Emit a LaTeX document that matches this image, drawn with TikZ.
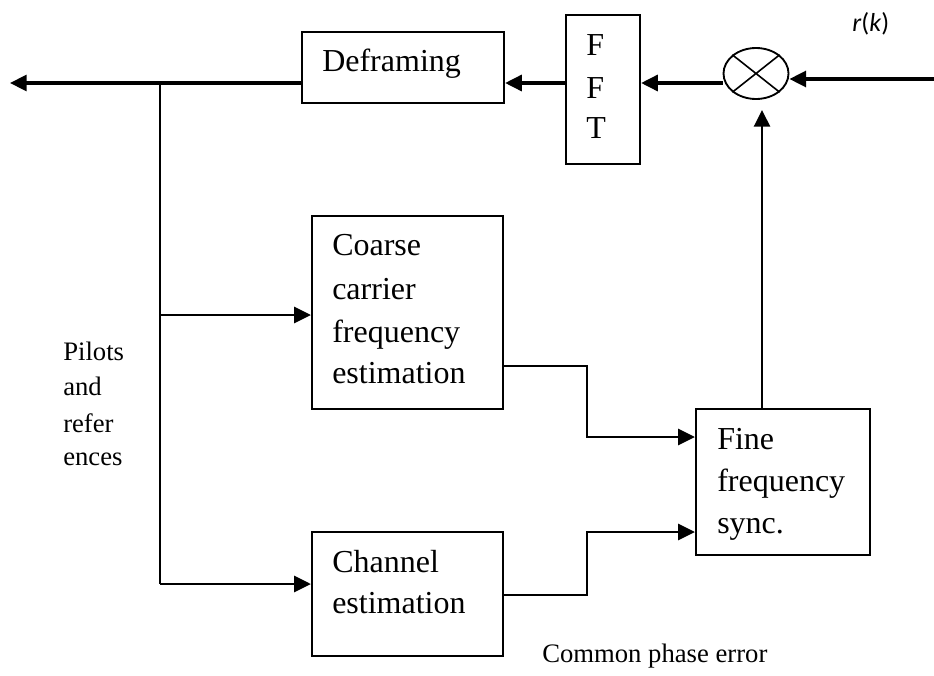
\documentclass[tikz,border=0pt]{standalone}
\usepackage{fontspec}
\setmainfont{Liberation Serif}
\newfontfamily\calfont{Carlito}
\usetikzlibrary{arrows.meta,shapes.geometric,fit}
\begin{document}
\begin{tikzpicture}[x=0.75pt,y=-0.75pt,
  box/.style={draw,line width=1.7pt,inner sep=0pt},
  conn/.style={line width=1.9pt},
  mainline/.style={line width=2.3pt},
  arr/.style={-{Triangle[length=12.5pt,width=12pt]}},
  btxt/.style={anchor=base west,inner sep=0pt,font=\fontsize{24}{30}\selectfont},
  stxt/.style={anchor=base west,inner sep=0pt,font=\fontsize{20}{25}\selectfont}]
\useasboundingbox (0,0) rectangle (934,675);
% boxes
\node[box,fit={(302,32) (504,103)}] (def) {};
\node[box,fit={(566,15) (640,164)}] (fft) {};
\node[box,fit={(312,216) (503,409)}] (coarse) {};
\node[box,fit={(312,532) (503,656)}] (chan) {};
\node[box,fit={(696,409) (870,555)}] (fine) {};
\node[draw,ellipse,line width=1.4pt,minimum width=48.75pt,minimum height=38.25pt,inner sep=0pt] (mul) at (756,73.5) {};
\draw[line width=1.2pt] (mul.north west) -- (mul.south east) (mul.north east) -- (mul.south west);
% texts
\node[btxt] (tdef) at (322,71) {Deframing};
\node[btxt] (tf1) at (586,55) {F};
\node[btxt] (tf2) at (586,98) {F};
\node[btxt] (tf3) at (586,138) {T};
\node[btxt] (tc1) at (332,255) {Coarse};
\node[btxt] (tc2) at (332,299) {carrier};
\node[btxt] (tc3) at (332,342) {frequency};
\node[btxt] (tc4) at (332,383) {estimation};
\node[btxt] (th1) at (332,572) {Channel};
\node[btxt] (th2) at (332,613) {estimation};
\node[btxt] (ti1) at (717,449) {Fine};
\node[btxt] (ti2) at (717,491) {frequency};
\node[btxt] (ti3) at (717,533) {sync.};
\node[stxt] (tp1) at (63,360) {Pilots};
\node[stxt] (tp2) at (63,395) {and};
\node[stxt] (tp3) at (63,432) {refer};
\node[stxt] (tp4) at (63,465) {ences};
\node[stxt] (tcpe) at (542,662) {Common phase error};
\node[anchor=base west,inner sep=0pt,font=\calfont\fontsize{19.5}{23}\selectfont] (rk) at (852,31) {\textit{r}(\textit{k})};
% coordinates
\coordinate (in) at (934,79);
\coordinate (ym) at (0,83);
\coordinate (out) at (10,83);
\coordinate (j) at (160,83);
\coordinate (jc) at (160,315);
\coordinate (jh) at (160,584);
\coordinate (c1) at (587,366);
\coordinate (c2) at (587,437);
\coordinate (h1) at (587,595);
\coordinate (h2) at (587,532);
\coordinate (fup) at (762,409);
\coordinate (mulin) at (762,110);
% connectors
\draw[mainline,arr] (in) -- (mul.east |- in);
\draw[mainline,arr] (mul.west |- ym) -- (fft.east |- ym);
\draw[mainline,arr] (fft.west |- ym) -- (def.east |- ym);
\draw[mainline,arr] (def.west |- ym) -- (out);
\draw[conn] (j) -- (jh);
\draw[conn,arr] (jc) -- (coarse.west |- jc);
\draw[conn,arr] (jh) -- (chan.west |- jh);
\draw[conn,arr] (coarse.east |- c1) -- (c1) -- (c2) -- (fine.west |- c2);
\draw[conn,arr] (chan.east |- h1) -- (h1) -- (h2) -- (fine.west |- h2);
\draw[conn,arr] (fup) -- (mulin);
\end{tikzpicture}
\end{document}
